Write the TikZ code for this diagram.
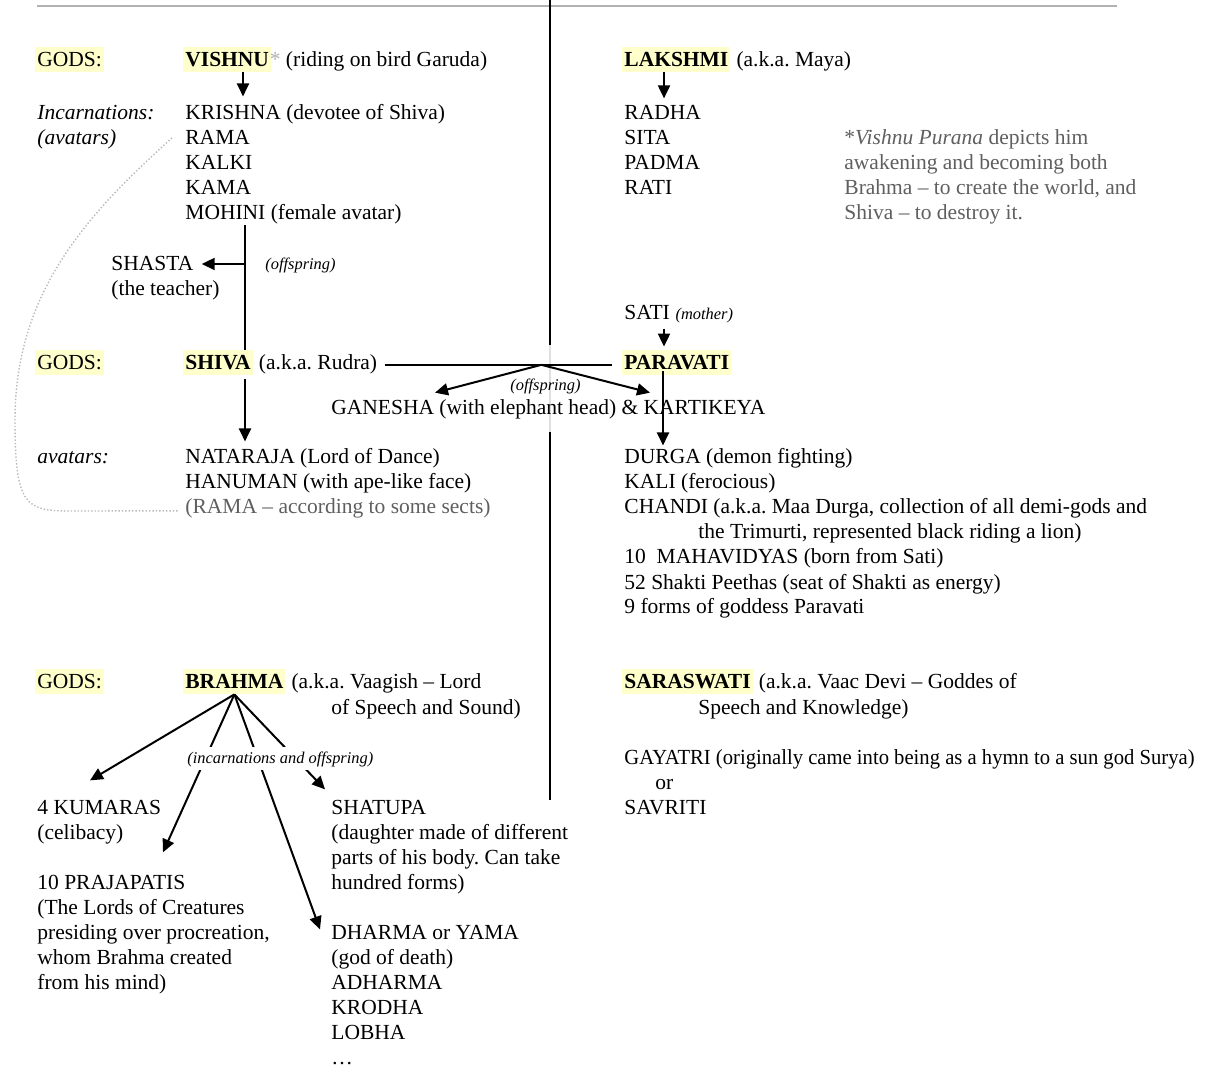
\documentclass[tikz,border=0pt]{standalone}
\usepackage{fontspec}
\setmainfont{Liberation Serif}
\usepackage{graphicx}
\usepackage{xcolor}
\usepackage{tikz}
\usetikzlibrary{arrows.meta, positioning, calc}

\definecolor{hlyellow}{RGB}{255,255,204}
\definecolor{notegray}{RGB}{95,95,95}
\newcommand{\mainfs}{\fontsize{10.75}{12.5}\selectfont\frenchspacing}
\newcommand{\smallfs}{\fontsize{8.2}{10}\selectfont\frenchspacing}

\begin{document}
\begin{tikzpicture}[
    x=0.5pt, y=-0.5pt,
    entry/.style={anchor=base west, inner sep=0pt, font=\mainfs},
    aside/.style={entry, font=\mainfs\itshape},
    remark/.style={anchor=base west, inner sep=0pt, font=\smallfs\itshape},
    note/.style={entry, text=notegray},
    tag/.style={anchor=base west, fill=hlyellow, inner xsep=1pt, inner ysep=0.5pt, text height=9.5pt, text depth=2pt, font=\mainfs},
    god/.style={tag, font=\mainfs\bfseries},
    arrow/.style={-{Triangle[length=6.5pt, width=6pt]}, line width=1pt},
    link/.style={line width=1pt},
]
\useasboundingbox (0,0) rectangle (1209,1068);

% Rules
\coordinate (ruleL) at (37,6);
\coordinate (ruleR) at (1117,6);
\coordinate (sepTop) at (550,0);
\coordinate (sepBot) at (550,800);
\draw[gray!60, line width=1pt] (ruleL) -- (ruleR);
\draw[link] (sepTop) -- (sepBot);
\draw[link, gray!25] (550,345) -- (550,432);

% Vishnu and Lakshmi
\node[tag] (gods1) at (35,67) {GODS:};
\node[god] (vishnu) at (183,67) {VISHNU};
\node[entry, base right=-1pt of vishnu] (vishnuAka) {\textcolor{gray!60}{*} (riding on bird Garuda)};
\node[god] (lakshmi) at (622,67) {LAKSHMI};
\node[entry, base right=2.7pt of lakshmi] (lakshmiAka) {(a.k.a. Maya)};

\node[aside] (incarn) at (37,120) {Incarnations:};
\node[aside] (incarnSub) at (37,145) {(avatars)};
\foreach \t [count=\i from 0] in {{KRISHNA (devotee of Shiva)}, RAMA, KALKI, KAMA, {MOHINI (female avatar)}}
    \node[entry] (vav\i) at (185,{120+25*\i}) {\t};
\foreach \t [count=\i from 0] in {RADHA, SITA, PADMA, RATI}
    \node[entry] (lav\i) at (624,{120+25*\i}) {\t};
\foreach \t [count=\i from 0] in {{*\textit{Vishnu Purana} depicts him}, awakening and becoming both, {Brahma -- to create the world, and}, Shiva -- to destroy it.}
    \node[note] (purana\i) at (844,{145+25*\i}) {\t};

\node[entry] (shasta) at (111,271) {SHASTA};
\node[entry] (shastaSub) at (111,296) {(the teacher)};
\node[remark] (offspring1) at (265,270) {(offspring)};

% Shiva and Paravati
\node[entry] (sati) at (624,320) {SATI};
\node[remark, base right=2.5pt of sati] (mother) {(mother)};
\node[tag] (gods2) at (35,370) {GODS:};
\node[god] (shiva) at (183,370) {SHIVA};
\node[entry, base right=2.7pt of shiva] (shivaAka) {(a.k.a. Rudra)};
\node[god] (paravati) at (622,370) {PARAVATI};
\node[remark] (offspring2) at (510,391) {(offspring)};
\node[entry] (ganesha) at (331,415) {GANESHA (with elephant head) \& KARTIKEYA};

\node[aside] (shivaAv) at (37,464) {avatars:};
\node[entry] (sav0) at (185,464) {NATARAJA (Lord of Dance)};
\node[entry] (sav1) at (185,489) {HANUMAN (with ape-like face)};
\node[note] (ramaSect) at (185,514) {(RAMA -- according to some sects)};

\node[entry] (pav0) at (624,464) {DURGA (demon fighting)};
\node[entry] (pav1) at (624,489) {KALI (ferocious)};
\node[entry] (pav2) at (624,514) {CHANDI (a.k.a. Maa Durga, collection of all demi-gods and};
\node[entry] (pav2b) at (698,539) {the Trimurti, represented black riding a lion)};
\node[entry] (pav3) at (624,564) {10~~MAHAVIDYAS (born from Sati)};
\node[entry] (pav4) at (624,589) {52 Shakti Peethas (seat of Shakti as energy)};
\node[entry] (pav5) at (624,614) {9 forms of goddess Paravati};

% Brahma and Saraswati
\node[tag] (gods3) at (35,689) {GODS:};
\node[god] (brahma) at (183,689) {BRAHMA};
\node[entry, base right=2.7pt of brahma] (brahmaAka) {(a.k.a. Vaagish -- Lord};
\node[entry] (brahmaAka2) at (331,714) {of Speech and Sound)};
\node[god] (saraswati) at (622,689) {SARASWATI};
\node[entry, base right=2.7pt of saraswati] (saraswatiAka) {(a.k.a. Vaac Devi -- Goddes of};
\node[entry] (saraswatiAka2) at (698,714) {Speech and Knowledge)};
\node[entry] (gayatri) at (624,764) {\scalebox{0.96}[1]{GAYATRI (originally came into being as a hymn to a sun god Surya)}};
\node[entry] (orLine) at (655,789) {or};
\node[entry] (savriti) at (624,814) {SAVRITI};

\node[entry] (kumaras) at (37,814) {4 KUMARAS};
\node[entry] (kumarasSub) at (37,839) {(celibacy)};
\foreach \t [count=\i from 0] in {10 PRAJAPATIS, {(The Lords of Creatures}, {presiding over procreation,}, whom Brahma created, {from his mind)}}
    \node[entry] (praj\i) at (37,{889+25*\i}) {\t};
\foreach \t [count=\i from 0] in {SHATUPA, {(daughter made of different}, parts of his body. Can take, {hundred forms)}}
    \node[entry] (shat\i) at (331,{814+25*\i}) {\t};
\foreach \t [count=\i from 0] in {DHARMA or YAMA, {(god of death)}, ADHARMA, KRODHA, LOBHA, \dots}
    \node[entry] (dharma\i) at (331,{939+25*\i}) {\t};

% Arrows
\draw[arrow] ($(vishnu.south west)+(60,0)$) -- ($(vav0.north west)+(58,-8)$);
\draw[arrow] ($(lakshmi.south west)+(42,0)$) -- ($(lav0.north west)+(40,-7)$);
\coordinate (trunk) at ($(vav4.south west)+(60,0)$);
\draw[link] (trunk) -- (trunk |- shiva.north);
\draw[arrow] (trunk |- shasta.east) -- ($(shasta.east)+(8,0)$);
\draw[arrow] ($(shiva.south west)+(62,4)$) -- ($(sav0.north west)+(60,-7)$);
\draw[arrow] ($(sati.south west)+(40,8)$) -- ($(paravati.north west)+(42,-3)$);
\coordinate (marriage) at (shivaAka.east -| paravati.west);
\draw[link] ($(shivaAka.east)+(7,0)$) -- ($(marriage)+(-10,0)$);
\coordinate (kinJoin) at ($(shivaAka.east)!0.67!(marriage)$);
\draw[arrow] (kinJoin) -- ($(ganesha.north west)+(104,-7)$);
\draw[arrow] (kinJoin) -- ($(ganesha.north west)+(319,-7)$);
\draw[arrow] ($(paravati.south west)+(41,-4)$) -- ($(pav0.north west)+(39,-3)$);

\draw[arrow] (brahma.south) -- ($(kumaras.north west)+(53,-19)$);
\draw[arrow] (brahma.south) -- ($(praj0.north west)+(126,-22)$);
\draw[arrow] (brahma.south) -- ($(dharma0.north west)+(-11,5)$);
\draw[arrow] (brahma.south) -- ($(shat0.north west)+(-6,-10)$);
\node[remark, fill=white, inner sep=2pt] (incOff) at (183,763) {(incarnations and offspring)};

% Rama link
\draw[gray!55, densely dotted, line width=0.7pt] ($(vav1.west)+(-13,0)$) .. controls (90,212) and (15,290) .. (15,420) .. controls (15,505) and (25,511) .. (70,511) -- ($(ramaSect.west)+(-6,2)$);

\end{tikzpicture}
\end{document}
